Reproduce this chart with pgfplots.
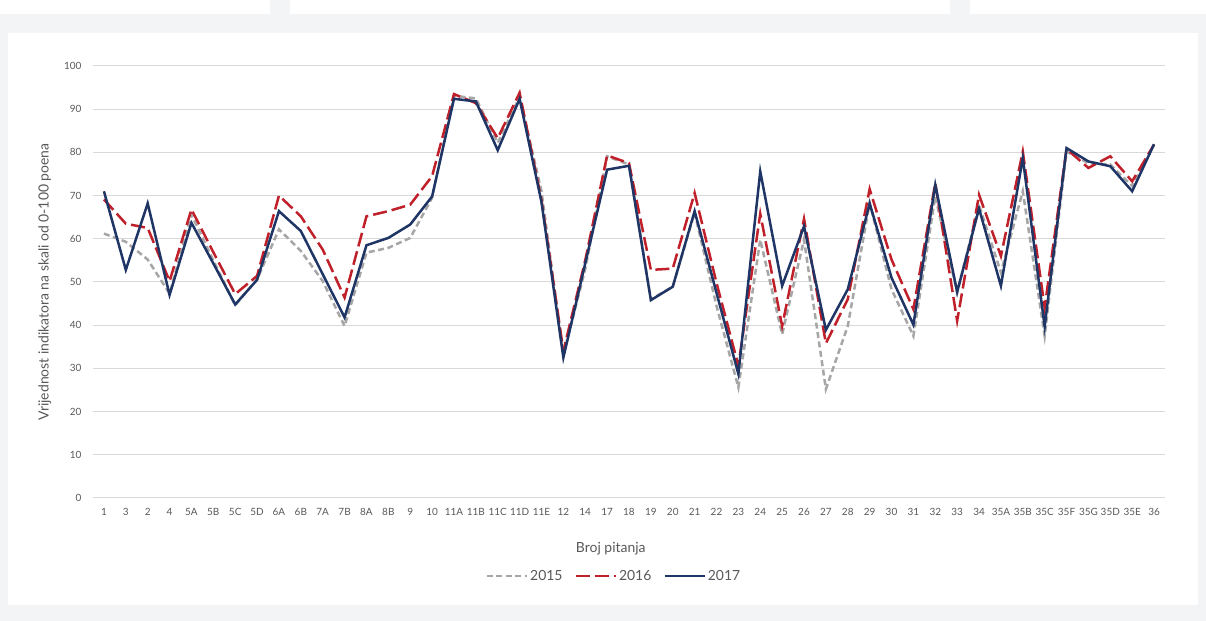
\documentclass[border=0pt]{standalone}
\usepackage{fontspec}
\setmainfont{Lato}
\usepackage{pgfplots}
\usepackage{pgfplotstable}
\pgfplotsset{compat=1.18}

\definecolor{frame}{HTML}{F3F4F6}
\definecolor{gridc}{HTML}{D9D9D9}
\definecolor{txt}{HTML}{595959}
\definecolor{c15}{HTML}{A6A6A6}
\definecolor{c16}{HTML}{C0202A}
\definecolor{c17}{HTML}{1F3566}

% x = position of the question on the axis, then the three years
\pgfplotstableread{
x  y15  y16  y17
0  61.2 69.1 71.0
1  59.3 63.5 52.8
2  55.2 62.5 68.2
3  47.3 50.2 47.0
4  65.6 66.8 63.7
5  55.0 56.9 54.3
6  44.6 47.2 44.8
7  50.6 51.4 50.5
8  62.2 70.0 66.4
9  57.2 65.2 61.8
10 50.2 57.5 51.8
11 39.8 46.4 41.8
12 56.8 65.2 58.5
13 57.9 66.4 60.2
14 60.2 67.9 63.3
15 69.5 74.5 69.8
16 93.1 93.5 92.4
17 92.5 91.4 91.8
18 82.2 83.3 80.5
19 92.9 93.8 92.4
20 71.0 69.0 68.5
21 33.0 34.0 32.5
22 53.0 55.0 54.3
23 79.1 79.3 76.0
24 77.2 77.5 76.9
25 46.0 52.8 45.8
26 48.9 53.1 48.9
27 66.0 70.6 66.4
28 44.5 49.8 47.5
29 25.6 30.6 28.7
30 59.8 65.8 75.6
31 37.9 39.8 49.1
32 59.8 64.6 62.9
33 25.2 35.8 38.9
34 39.8 46.0 48.3
35 68.3 71.5 68.2
36 48.3 55.2 51.0
37 37.5 43.7 40.1
38 69.8 72.9 72.5
39 47.5 41.0 47.7
40 67.8 70.2 67.0
41 52.2 56.0 49.1
42 71.0 80.2 78.7
43 37.5 44.1 39.7
44 80.2 80.8 81.0
45 77.5 76.4 77.9
46 77.2 79.1 76.8
47 72.2 73.3 71.0
48 81.8 81.8 81.9
}\pitanja

\begin{document}
\begin{tikzpicture}[x=1bp,y=1bp]
% page background, one px of the reference = 1bp
\path[use as bounding box, fill=white] (0,0) rectangle (1206,621);
\fill[frame] (0,0) rectangle (1206,607);
\fill[white] (8,16) rectangle (1198,588);
\fill[frame] (270,607) rectangle (290,621);
\fill[frame] (950,607) rectangle (970,621);

\begin{axis}[
  at={(93bp,123bp)}, anchor=south west,
  scale only axis,
  width=1072bp, height=432bp,
  xmin=-0.5, xmax=48.5,
  ymin=0, ymax=100,
  ytick={0,10,...,100},
  xtick={0,...,48},
  xticklabels={1,3,2,4,5A,5B,5C,5D,6A,6B,7A,7B,8A,8B,9,10,11A,11B,11C,11D,11E,12,14,17,18,19,20,21,22,23,24,25,26,27,28,29,30,31,32,33,34,35A,35B,35C,35F,35G,35D,35E,36},
  axis line style={draw=none},
  major tick length=0pt,
  ymajorgrids=true,
  grid style={gridc, line width=1bp},
  /pgf/number format/assume math mode=true,
  ticklabel style={font=\fontsize{10}{12}\selectfont, text=txt},
  xticklabel style={yshift=-7bp},
  yticklabel style={xshift=-8bp},
  xlabel={Broj pitanja},
  ylabel={Vrijednost indikatora na skali od 0-100 poena},
  label style={font=\fontsize{14}{16}\selectfont, text=txt},
  xlabel style={at={(axis description cs:0.483,-0.118)}, anchor=center},
  ylabel style={at={(axis description cs:-0.045,0.5)}, anchor=center},
  legend columns=-1,
  legend style={at={(axis description cs:0.486,-0.18)}, anchor=center,
    draw=none, fill=none, font=\fontsize{14}{16}\selectfont, text=txt,
    /tikz/every even column/.append style={column sep=10bp}},
  legend image code/.code={\draw[#1] (0bp,0bp) -- (40bp,0bp);},
  every axis plot/.append style={line width=2.5bp, line join=miter},
]
\addplot[c15, dash pattern=on 6bp off 3.5bp] table[x=x, y=y15] {\pitanja};
\addplot[c16, dash pattern=on 14bp off 5bp] table[x=x, y=y16] {\pitanja};
\addplot[c17] table[x=x, y=y17] {\pitanja};
\legend{2015,2016,2017}
\end{axis}
\end{tikzpicture}
\end{document}
